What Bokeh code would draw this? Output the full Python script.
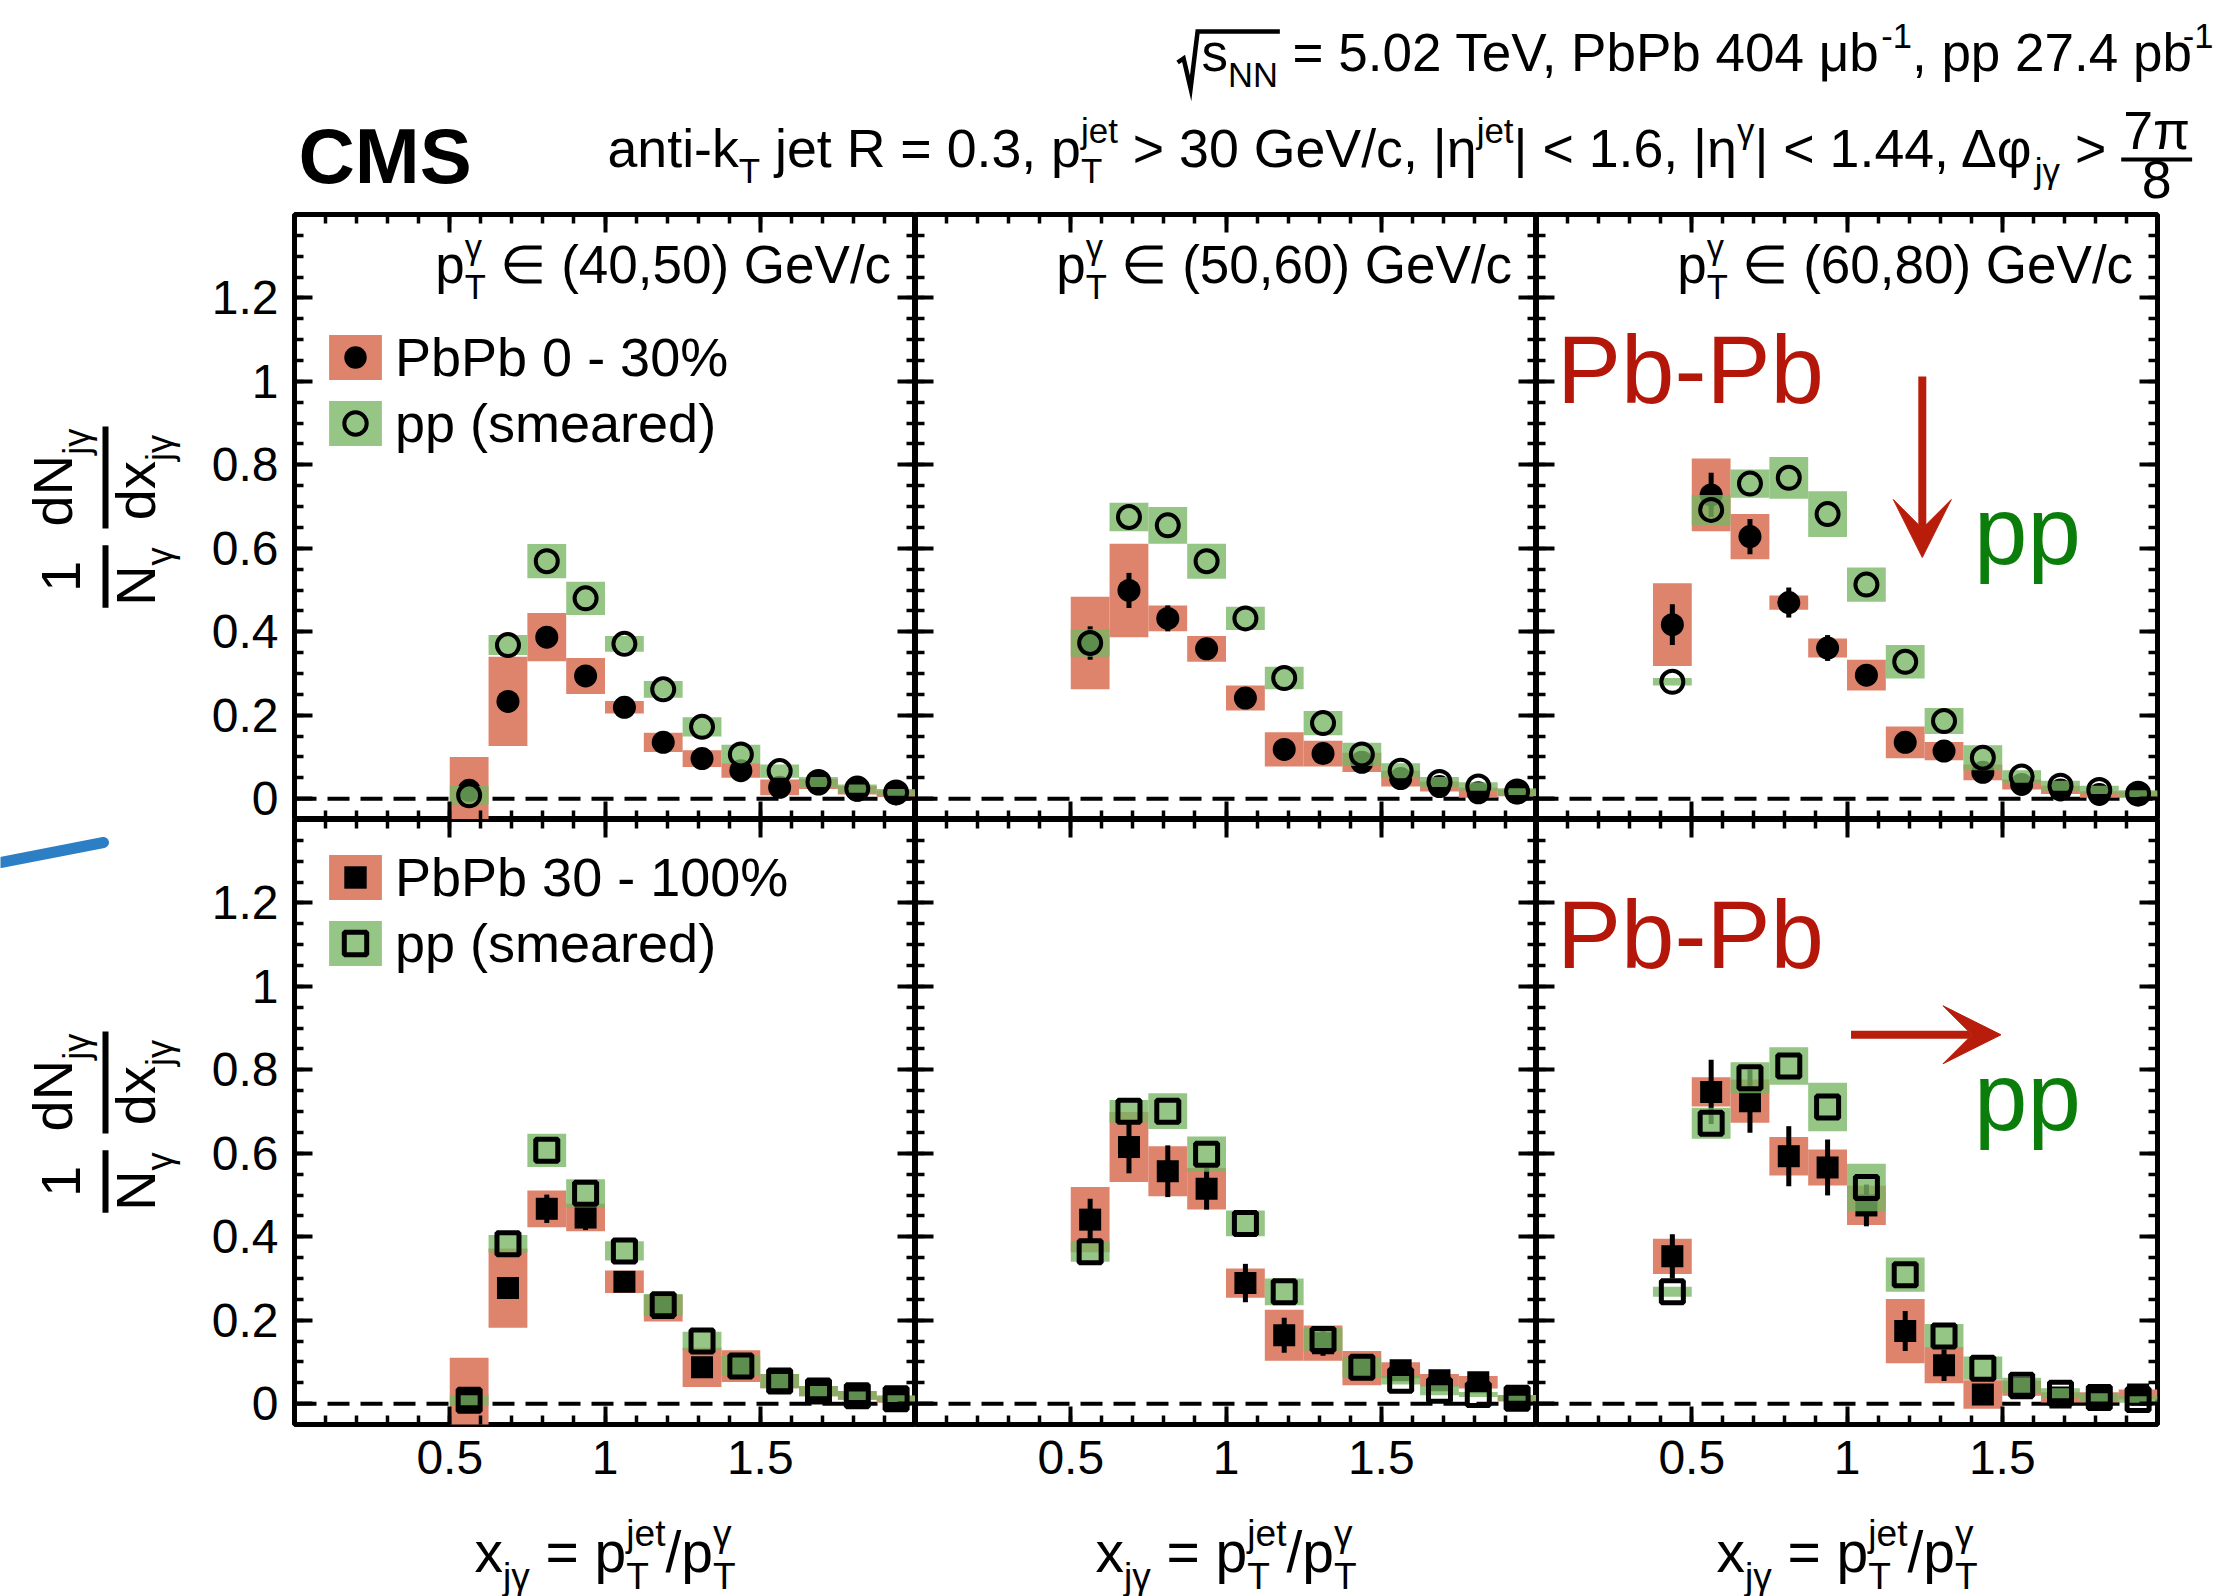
import numpy as np
from bokeh.core.properties import value
from bokeh.embed import file_html
from bokeh.layouts import column, row
from bokeh.models import (Arrow, ColumnDataSource, FixedTicker, Legend, LegendItem,
                          LinearAxis, PrintfTickFormatter, Range1d, Span, VeeHead)
from bokeh.plotting import figure
from bokeh.resources import INLINE

FONT = "Liberation Sans"

# ---------------------------------------------------------------- data
# x_jγ bin edges
edges_pt40_50 = [0.5, 0.625, 0.75, 0.875, 1.0, 1.125, 1.25, 1.375, 1.5, 1.625, 1.75, 1.875, 2.0]
edges_pt50_60 = [0.5, 0.625, 0.75, 0.875, 1.0, 1.125, 1.25, 1.375, 1.5, 1.625, 1.75, 1.875, 2.0]
edges_pt60_80 = [0.375, 0.5, 0.625, 0.75, 0.875, 1.0, 1.125, 1.25, 1.375, 1.5, 1.625, 1.75, 1.875, 2.0]

# PbPb 0-30 %
c030_pt4050_pbpb = [0.02, 0.233, 0.387, 0.294, 0.219, 0.135, 0.096, 0.067, 0.027, 0.035, 0.02, 0.012]
c030_pt4050_pbpb_stat = [0.015, 0.02, 0.02, 0.018, 0.015, 0.015, 0.012, 0.012, 0.01, 0.01, 0.008, 0.008]
c030_pt4050_pbpb_syst = [0.08, 0.107, 0.058, 0.043, 0.015, 0.023, 0.02, 0.017, 0.019, 0.012, 0.01, 0.008]
c030_pt4050_pp = [0.008, 0.368, 0.569, 0.48, 0.371, 0.262, 0.172, 0.106, 0.066, 0.04, 0.024, 0.015]
c030_pt4050_pp_syst = [0.022, 0.024, 0.041, 0.04, 0.019, 0.02, 0.023, 0.023, 0.016, 0.012, 0.01, 0.008]

c030_pt5060_pbpb = [0.373, 0.499, 0.432, 0.359, 0.241, 0.118, 0.108, 0.087, 0.048, 0.029, 0.014, 0.014]
c030_pt5060_pbpb_stat = [0.04, 0.042, 0.031, 0.02, 0.02, 0.02, 0.02, 0.015, 0.012, 0.01, 0.01, 0.01]
c030_pt5060_pbpb_syst = [0.111, 0.112, 0.031, 0.031, 0.03, 0.041, 0.031, 0.023, 0.019, 0.012, 0.012, 0.008]
c030_pt5060_pp = [0.373, 0.675, 0.655, 0.569, 0.432, 0.289, 0.181, 0.106, 0.067, 0.04, 0.029, 0.017]
c030_pt5060_pp_syst = [0.033, 0.034, 0.044, 0.042, 0.028, 0.027, 0.029, 0.028, 0.018, 0.012, 0.01, 0.008]

c030_pt6080_pbpb = [0.417, 0.728, 0.628, 0.47, 0.361, 0.296, 0.135, 0.114, 0.063, 0.034, 0.021, 0.01, 0.01]
c030_pt6080_pbpb_stat = [0.049, 0.053, 0.042, 0.036, 0.031, 0.02, 0.02, 0.015, 0.012, 0.01, 0.01, 0.01, 0.008]
c030_pt6080_pbpb_syst = [0.099, 0.087, 0.054, 0.017, 0.023, 0.037, 0.038, 0.022, 0.019, 0.012, 0.01, 0.008, 0.008]
c030_pt6080_pp = [0.28, 0.692, 0.755, 0.769, 0.682, 0.513, 0.328, 0.186, 0.098, 0.053, 0.031, 0.021, 0.012]
c030_pt6080_pp_syst = [0.009, 0.036, 0.034, 0.05, 0.055, 0.041, 0.04, 0.031, 0.03, 0.015, 0.012, 0.01, 0.008]

# PbPb 30-100 %
c30100_pt4050_pbpb = [0.01, 0.277, 0.467, 0.446, 0.292, 0.229, 0.087, 0.09, 0.054, 0.03, 0.02, 0.01]
c30100_pt4050_pbpb_stat = [0.02, 0.02, 0.034, 0.03, 0.02, 0.02, 0.02, 0.02, 0.012, 0.01, 0.01, 0.01]
c30100_pt4050_pbpb_syst = [0.1, 0.095, 0.044, 0.033, 0.027, 0.032, 0.047, 0.038, 0.017, 0.012, 0.01, 0.008]
c30100_pt4050_pp = [0.008, 0.383, 0.607, 0.504, 0.366, 0.237, 0.15, 0.09, 0.054, 0.03, 0.019, 0.012]
c30100_pt4050_pp_syst = [0.012, 0.021, 0.04, 0.034, 0.023, 0.026, 0.022, 0.024, 0.017, 0.012, 0.01, 0.008]

c30100_pt5060_pbpb = [0.441, 0.615, 0.557, 0.515, 0.289, 0.164, 0.145, 0.085, 0.08, 0.056, 0.051, 0.013]
c30100_pt5060_pbpb_stat = [0.05, 0.063, 0.062, 0.05, 0.046, 0.042, 0.03, 0.02, 0.015, 0.015, 0.015, 0.01]
c30100_pt5060_pbpb_syst = [0.078, 0.084, 0.06, 0.05, 0.035, 0.061, 0.042, 0.041, 0.019, 0.015, 0.015, 0.008]
c30100_pt5060_pp = [0.364, 0.701, 0.701, 0.598, 0.432, 0.268, 0.154, 0.087, 0.056, 0.032, 0.022, 0.013]
c30100_pt5060_pp_syst = [0.024, 0.027, 0.043, 0.042, 0.031, 0.032, 0.027, 0.024, 0.01, 0.012, 0.006, 0.006]

c30100_pt6080_pbpb = [0.353, 0.747, 0.725, 0.593, 0.566, 0.475, 0.174, 0.092, 0.022, 0.037, 0.015, 0.015, 0.022]
c30100_pt6080_pbpb_stat = [0.053, 0.077, 0.076, 0.072, 0.067, 0.05, 0.048, 0.038, 0.02, 0.015, 0.012, 0.012, 0.012]
c30100_pt6080_pbpb_syst = [0.042, 0.035, 0.052, 0.046, 0.043, 0.047, 0.077, 0.043, 0.034, 0.018, 0.012, 0.012, 0.012]
c30100_pt6080_pp = [0.268, 0.672, 0.781, 0.809, 0.711, 0.518, 0.309, 0.162, 0.085, 0.044, 0.025, 0.015, 0.01]
c30100_pt6080_pp_syst = [0.012, 0.037, 0.037, 0.045, 0.058, 0.057, 0.041, 0.029, 0.028, 0.018, 0.012, 0.01, 0.008]

pt_bin_labels = ["(40,50)", "(50,60)", "(60,80)"]
centrality_labels = ["PbPb 0 - 30%", "PbPb 30 - 100%"]
pp_label = "pp (smeared)"

y_major = [0, 0.2, 0.4, 0.6, 0.8, 1.0, 1.2]
x_major = [0.5, 1.0, 1.5]

# ---------------------------------------------------------------- style
RED_BOX = "#de836c"
GREEN_BOX = "#77b663"
PBPB_TEXT = "#b5160a"
PP_TEXT = "#0a7d0a"
ARROW_RED = "#b81d0c"
PEN_BLUE = "#1a74bf"

FRAME_W, FRAME_H = 621, 605
LEFT_B, RIGHT_B, TOP_B, BOTTOM_B = 88, 66, 3, 82
HEADER_H, YTITLE_W, XTITLE_H = 211, 206, 90

# Liberation Sans advance widths (1/1000 em), used to lay out sub/superscripts
W = {c: 556 for c in "0123456789"}
W.update({" ": 278, "(": 333, ")": 333, ",": 278, "-": 333, ".": 278, "/": 278, "%": 889,
          "=": 584, "<": 584, ">": 584, "|": 260, "∈": 713, "√": 549, "γ": 500, "η": 556,
          "μ": 576, "π": 690, "φ": 650, "Δ": 668})
W.update(dict(A=667, B=667, C=722, D=722, E=667, F=611, G=778, H=722, I=278, J=500, K=667,
              L=556, M=833, N=722, O=778, P=667, Q=778, R=722, S=667, T=611, U=722, V=667,
              X=667, Y=667, Z=611))
W.update(dict(a=556, b=556, c=500, d=556, e=556, f=278, g=556, h=556, i=222, j=222, k=500,
              l=222, m=833, n=556, o=556, p=556, q=556, r=333, s=500, t=278, u=556, v=500,
              w=722, x=500, y=500, z=500))

SUB_SCALE, SUB_SHIFT, SUP_SHIFT = 0.65, -0.30, 0.45
BASE_FIX = 0.35  # lifts glyphs so that the given anchor is the alphabetic baseline


def tw(s, size):
    return sum(W.get(c, 556) for c in s) * size / 1000.0


def layout_parts(parts, size):
    """Split a run of text into pieces (text, advance, baseline shift, font size)."""
    pieces, pos = [], 0.0
    small = size * SUB_SCALE

    def put(text, shift, fs, kern=0.0):
        stripped = text.lstrip(" ")
        lead = tw(text[:len(text) - len(stripped)], fs)
        if stripped.strip():
            pieces.append((stripped.rstrip(" "), pos + lead + kern, shift, fs))
        return tw(text, fs)

    for part in parts:
        kind = part[0]
        if kind == "n":
            pos += put(part[1], 0.0, size)
        elif kind == "sub":
            pos += put(part[1], SUB_SHIFT * size, small)
        elif kind == "sup":
            kern = -0.17 * size if part[1].startswith("-") else 0.0
            pos += put(part[1], SUP_SHIFT * size, small, kern) + kern
        else:  # stacked subscript + superscript
            a = put(part[1], SUB_SHIFT * size, small)
            b = put(part[2], SUP_SHIFT * size, small)
            pos += max(a, b)
    return pieces, pos


def put_text(fig, x, y, text, size, color="black", align="left", bold=False,
             angle=0.0, xo=0.0, yo=0.0):
    """Text anchored on its alphabetic baseline; offsets are screen pixels."""
    if angle:  # reading upwards: the glyph's "down" is screen +x
        xo -= BASE_FIX * size
    else:
        yo -= BASE_FIX * size
    fig.text(x=[x], y=[y], text=[text], x_offset=xo, y_offset=yo,
             angle=angle, text_font=value(FONT), text_font_size=f"{size:.1f}px",
             text_color=color, text_align=align, text_baseline="alphabetic",
             text_font_style="bold" if bold else "normal")


def rich(fig, x, y, parts, size, align="left", color="black", angle=0.0, bold=False,
         lift=0.0):
    """Lay out text with sub/superscripts; lift moves the baseline 'up' in the text frame."""
    pieces, total = layout_parts(parts, size)
    start = {"left": 0.0, "center": -total / 2.0, "right": -total}[align]
    for text, dx, dy, fs in pieces:
        along = start + dx
        up = lift + dy
        if angle:
            put_text(fig, x, y, text, fs, color=color, bold=bold, angle=angle,
                     xo=-up, yo=-along)
        else:
            put_text(fig, x, y, text, fs, color=color, bold=bold, xo=along, yo=-up)
    return total


def blank_canvas(width, height):
    f = figure(width=width, height=height, x_range=Range1d(0, width), y_range=Range1d(0, height),
               output_backend="svg", toolbar_location=None, x_axis_location=None,
               y_axis_location=None, min_border=0)
    f.xgrid.visible = False
    f.ygrid.visible = False
    f.outline_line_color = None
    f.background_fill_color = "white"
    f.border_fill_color = "white"
    return f


def style_axis(ax, majors, minors, show_labels, standoff):
    ax.ticker = FixedTicker(ticks=majors, minor_ticks=minors)
    ax.major_tick_in, ax.major_tick_out = 18, 0
    ax.minor_tick_in, ax.minor_tick_out = 9, 0
    ax.major_tick_line_width = 4
    ax.minor_tick_line_width = 3.5
    ax.major_tick_line_color = "black"
    ax.minor_tick_line_color = "black"
    ax.axis_line_color = None
    if show_labels:
        ax.formatter = PrintfTickFormatter(format="%g")
        ax.major_label_text_font = FONT
        ax.major_label_text_font_size = "48px"
        ax.major_label_text_color = "black"
        ax.major_label_standoff = standoff
    else:
        ax.major_label_text_font_size = "0px"
        ax.major_label_text_color = None
        ax.major_label_standoff = 0


x_minor = [round(0.1 * i, 2) for i in range(1, 20)]
y_minor = [round(0.05 * i, 2) for i in range(1, 28)]


def make_panel(edges, pbpb, pbpb_stat, pbpb_syst, pp, pp_syst, marker, col, rowi):
    left = LEFT_B if col == 0 else 0
    right = RIGHT_B if col == 2 else 0
    top = TOP_B if rowi == 0 else 0
    bottom = BOTTOM_B if rowi == 1 else 0
    p = figure(width=FRAME_W + left + right, height=FRAME_H + top + bottom,
               x_range=Range1d(0, 2), y_range=Range1d(-0.05, 1.4),
               output_backend="svg", toolbar_location=None,
               min_border_left=left, min_border_right=right,
               min_border_top=top, min_border_bottom=bottom)
    p.xgrid.visible = False
    p.ygrid.visible = False
    p.outline_line_color = "black"
    p.outline_line_width = 5
    p.background_fill_color = "white"
    p.border_fill_color = "white"
    p.add_layout(LinearAxis(), "above")
    p.add_layout(LinearAxis(), "right")
    style_axis(p.below[0], x_major, x_minor, rowi == 1, 16)
    style_axis(p.above[0], x_major, x_minor, False, 0)
    style_axis(p.left[0], y_major, y_minor, col == 0, 16)
    style_axis(p.right[0], y_major, y_minor, False, 0)

    p.add_layout(Span(location=0, dimension="width", line_color="black", line_width=4,
                      line_dash="22 11", level="underlay"))

    e = np.asarray(edges)
    pb, pbs, pby = np.asarray(pbpb), np.asarray(pbpb_stat), np.asarray(pbpb_syst)
    ppv, ppy = np.asarray(pp), np.asarray(pp_syst)
    src = ColumnDataSource(dict(
        lo=e[:-1], hi=e[1:], x=(e[:-1] + e[1:]) / 2,
        pb=pb, pb_box_lo=pb - pby, pb_box_hi=pb + pby, pb_err_lo=pb - pbs, pb_err_hi=pb + pbs,
        pp=ppv, pp_box_lo=ppv - ppy, pp_box_hi=ppv + ppy))

    r_pb_box = p.quad(left="lo", right="hi", bottom="pb_box_lo", top="pb_box_hi", source=src,
                      fill_color=RED_BOX, line_color=None)
    p.segment(x0="x", x1="x", y0="pb_err_lo", y1="pb_err_hi", source=src,
              line_color="black", line_width=5)
    size_pb = 23 if marker == "circle" else 22
    r_pb = p.scatter(x="x", y="pb", source=src, marker=marker, size=size_pb,
                     fill_color="black", line_color=None)
    r_pp_box = p.quad(left="lo", right="hi", bottom="pp_box_lo", top="pp_box_hi", source=src,
                      fill_color=GREEN_BOX, fill_alpha=0.78, line_color=None)
    r_pp = p.scatter(x="x", y="pp", source=src, marker=marker, size=22,
                     fill_color=None, line_color="black",
                     line_width=4 if marker == "circle" else 5)
    return p, (r_pb_box, r_pb, r_pp_box, r_pp)


def add_legend(p, renderers, pbpb_label, loc):
    r_pb_box, r_pb, r_pp_box, r_pp = renderers
    leg = Legend(items=[LegendItem(label=pbpb_label, renderers=[r_pb_box, r_pb]),
                        LegendItem(label=pp_label, renderers=[r_pp_box, r_pp])],
                 location=loc, glyph_width=66, glyph_height=56, label_height=56,
                 spacing=4, padding=0, margin=0, label_standoff=7,
                 border_line_color=None, background_fill_alpha=0,
                 label_text_font=FONT, label_text_font_size="54px",
                 label_text_color="black")
    p.add_layout(leg)


panel_data = [
    [(edges_pt40_50, c030_pt4050_pbpb, c030_pt4050_pbpb_stat, c030_pt4050_pbpb_syst,
      c030_pt4050_pp, c030_pt4050_pp_syst),
     (edges_pt50_60, c030_pt5060_pbpb, c030_pt5060_pbpb_stat, c030_pt5060_pbpb_syst,
      c030_pt5060_pp, c030_pt5060_pp_syst),
     (edges_pt60_80, c030_pt6080_pbpb, c030_pt6080_pbpb_stat, c030_pt6080_pbpb_syst,
      c030_pt6080_pp, c030_pt6080_pp_syst)],
    [(edges_pt40_50, c30100_pt4050_pbpb, c30100_pt4050_pbpb_stat, c30100_pt4050_pbpb_syst,
      c30100_pt4050_pp, c30100_pt4050_pp_syst),
     (edges_pt50_60, c30100_pt5060_pbpb, c30100_pt5060_pbpb_stat, c30100_pt5060_pbpb_syst,
      c30100_pt5060_pp, c30100_pt5060_pp_syst),
     (edges_pt60_80, c30100_pt6080_pbpb, c30100_pt6080_pbpb_stat, c30100_pt6080_pbpb_syst,
      c30100_pt6080_pp, c30100_pt6080_pp_syst)],
]

panels = [[None] * 3 for _ in range(2)]
for ri, marker in enumerate(["circle", "square"]):
    for ci in range(3):
        p, rends = make_panel(*panel_data[ri][ci], marker=marker, col=ci, rowi=ri)
        panels[ri][ci] = p
        if ci == 0:
            add_legend(p, rends, centrality_labels[ri], (28, 365) if ri == 0 else (28, 450))
        if ri == 0:
            rich(p, 1.895, 1.236, [("n", "p"), ("subsup", "T", "γ"),
                                  ("n", " ∈ " + pt_bin_labels[ci] + " GeV/c")], 53, align="right")

# annotations in the highest photon-pT panels
top_r, bot_r = panels[0][2], panels[1][2]
for p, y_pb, y_pp in [(top_r, 0.949, 0.563), (bot_r, 1.045, 0.656)]:
    put_text(p, 0.066, y_pb, "Pb-Pb", 96, color=PBPB_TEXT)
    put_text(p, 1.409, y_pp, "pp", 96, color=PP_TEXT)
top_r.add_layout(Arrow(end=VeeHead(size=58, fill_color=ARROW_RED, line_color=ARROW_RED),
                       x_start=1.2425, y_start=1.012, x_end=1.2425, y_end=0.578,
                       line_color=ARROW_RED, line_width=8))
bot_r.add_layout(Arrow(end=VeeHead(size=58, fill_color=ARROW_RED, line_color=ARROW_RED),
                       x_start=1.013, y_start=0.884, x_end=1.496, y_end=0.884,
                       line_color=ARROW_RED, line_width=8))

# ---------------------------------------------------------------- header
header = blank_canvas(2223, HEADER_H)
H = HEADER_H
line1 = [("n", "s"), ("sub", "NN"), ("n", " = 5.02 TeV, PbPb 404 μb"), ("sup", "-1"),
         ("n", ", pp 27.4 pb"), ("sup", "-1")]
_, w1 = layout_parts(line1, 53)
s_start = 2213 - w1
rich(header, 2213, H - 71, line1, 53, align="right")
# radical sign drawn as a stroke with its overline
over_end = s_start + tw("s", 53) + tw("NN", 53 * SUB_SCALE) + 2
header.line(x=[s_start - 24, s_start - 18, s_start - 11, s_start - 4, over_end],
            y=[H - 62, H - 58, H - 88, H - 31, H - 31], line_color="black", line_width=4.5,
            line_join="miter")

L2 = 53.7
line2 = [("n", "anti-k"), ("sub", "T"), ("n", " jet R = 0.3, p"), ("subsup", "T", "jet"),
         ("n", " > 30 GeV/c, |η"), ("sup", "jet"), ("n", "| < 1.6, |η"), ("sup", "γ"),
         ("n", "| < 1.44, Δφ"), ("sub", "jγ"), ("n", " > ")]
w2 = rich(header, 607, H - 166, line2, L2, align="left")
fw = max(tw("7π", L2), tw("8", L2))
fx = 607 + w2 + fw / 2 + 2
put_text(header, fx, H - 148, "7π", L2, align="center")
put_text(header, fx, H - 198, "8", L2, align="center")
header.segment(x0=[fx - fw / 2 - 2], y0=[H - 159], x1=[fx + fw / 2 + 2], y1=[H - 159],
               line_color="black", line_width=4)
put_text(header, 298, H - 183, "CMS", 78, bold=True)

# ---------------------------------------------------------------- y titles
ytitle_h = FRAME_H * 2 + TOP_B + BOTTOM_B
ytitle = blank_canvas(YTITLE_W, ytitle_h)
Y0 = HEADER_H + ytitle_h  # page y of the canvas bottom


def vertical_fraction(fig, bar_x, cy, num, den, size, num_gap, den_gap):
    """Fraction written bottom-to-top; numerator sits left of the vertical bar."""
    _, wn = layout_parts(num, size)
    _, wd = layout_parts(den, size)
    half = max(wn, wd) / 2 + 2
    fig.segment(x0=[bar_x], y0=[cy - half], x1=[bar_x], y1=[cy + half],
                line_color="black", line_width=6)
    rich(fig, bar_x, cy, num, size, align="center", angle=np.pi / 2, lift=num_gap)
    rich(fig, bar_x, cy, den, size, align="center", angle=np.pi / 2, lift=-den_gap)


for shift in (0, FRAME_H):
    vertical_fraction(ytitle, 105, Y0 - (576 + shift), [("n", "1")],
                      [("n", "N"), ("sub", "γ")], 56, 25, 50)
    vertical_fraction(ytitle, 105, Y0 - (477 + shift), [("n", "dN"), ("sub", "jγ")],
                      [("n", "dx"), ("sub", "jγ")], 56, 33, 50)

ytitle.line(x=[0, 103], y=[Y0 - 862, Y0 - 842], line_color=PEN_BLUE, line_width=11,
            line_alpha=0.92, line_cap="round")

# ---------------------------------------------------------------- x titles
xtitle = blank_canvas(2223, XTITLE_H)
xt_parts = [("n", "x"), ("sub", "jγ"), ("n", " = p"), ("subsup", "T", "jet"), ("n", "/p"),
            ("subsup", "T", "γ")]
for cx in (YTITLE_W + LEFT_B + FRAME_W / 2,
           YTITLE_W + LEFT_B + FRAME_W * 1.5,
           YTITLE_W + LEFT_B + FRAME_W * 2.5):
    rich(xtitle, cx, 1596 - 1571, xt_parts, 57, align="center")

layout = column(header,
                row(ytitle, column(row(*panels[0]), row(*panels[1]))),
                xtitle)

open("out.html", "w").write(file_html(layout, INLINE, title="x_jgamma distributions"))
